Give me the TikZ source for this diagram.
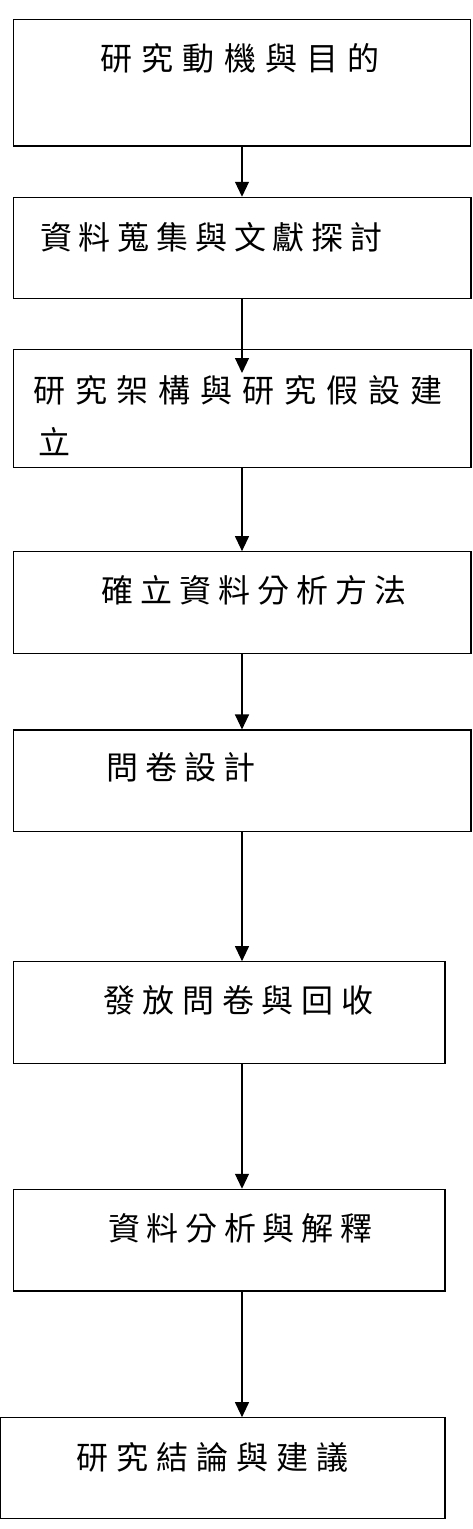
\documentclass[tikz,border=0pt]{standalone}
\usepackage{fontspec}
\newfontfamily\cjkfont{Noto Sans CJK TC}
\usetikzlibrary{arrows.meta}
% extra tracking between CJK characters
\newlength\cgap \setlength\cgap{8pt}
\def\spacedchars#1{\ifx#1\relax\else#1\hskip\cgap\expandafter\spacedchars\fi}
\newcommand\sptext[2][8pt]{\setlength\cgap{#1}\spacedchars#2\relax}
\begin{document}
\begin{tikzpicture}[x=1pt,y=-1pt,
  stepbox/.style={draw=black,line width=1.1pt,rectangle,inner sep=0pt},
  steptext/.style={anchor=west,inner sep=0pt,font=\cjkfont\fontsize{32pt}{38pt}\selectfont},
  flow/.style={draw=black,line width=1.1pt,-{Triangle[length=15pt,width=14pt]}}]
\useasboundingbox (0,0) rectangle (472,1529);
\coordinate (ax) at (242,0);
% process boxes
\node[stepbox,minimum width=457pt,minimum height=126.5pt] (b1) at (242,82.75) {};
\node[stepbox,minimum width=457.5pt,minimum height=101pt] (b2) at (242.25,247.8) {};
\node[stepbox,minimum width=457.5pt,minimum height=118pt] (b3) at (242.25,408.3) {};
\node[stepbox,minimum width=457.5pt,minimum height=101.6pt] (b4) at (242.25,602.5) {};
\node[stepbox,minimum width=457.5pt,minimum height=101.7pt] (b5) at (242.25,780.85) {};
\node[stepbox,minimum width=431.5pt,minimum height=101.6pt] (b6) at (229.25,1012.5) {};
\node[stepbox,minimum width=431.5pt,minimum height=101.7pt] (b7) at (229.25,1240.15) {};
\node[stepbox,minimum width=444.5pt,minimum height=100.6pt] (b8) at (222.75,1468) {};
% labels
\node[steptext] (t1) at (100,58) {\sptext[9.3pt]{研究動機與目的}};
\node[steptext] (t2) at (40,237) {\sptext[6.8pt]{資料蒐集與文獻探討}};
\node[steptext] (t3a) at (33,390) {\sptext[9.9pt]{研究架構與研究假設建}};
\node[steptext] (t3b) at (38,442) {立};
\node[steptext] (t4) at (101,590) {\sptext[7pt]{確立資料分析方法}};
\node[steptext] (t5) at (106,767) {\sptext[7pt]{問卷設計}};
\node[steptext] (t6) at (103,1000) {\sptext[7.7pt]{發放問卷與回收}};
\node[steptext] (t7) at (108,1228) {\sptext[6.7pt]{資料分析與解釋}};
\node[steptext] (t8) at (76,1457) {\sptext[8pt]{研究結論與建議}};
% connectors
\coordinate (a2tip) at (242,373);
\draw[flow] (b1.south -| ax) -- (b2.north -| ax);
\draw[flow] (b2.south -| ax) -- (a2tip);
\draw[flow] (b3.south -| ax) -- (b4.north -| ax);
\draw[flow] (b4.south -| ax) -- (b5.north -| ax);
\draw[flow] (b5.south -| ax) -- (b6.north -| ax);
\draw[flow] (b6.south -| ax) -- (b7.north -| ax);
\draw[flow] (b7.south -| ax) -- (b8.north -| ax);
\end{tikzpicture}
\end{document}
